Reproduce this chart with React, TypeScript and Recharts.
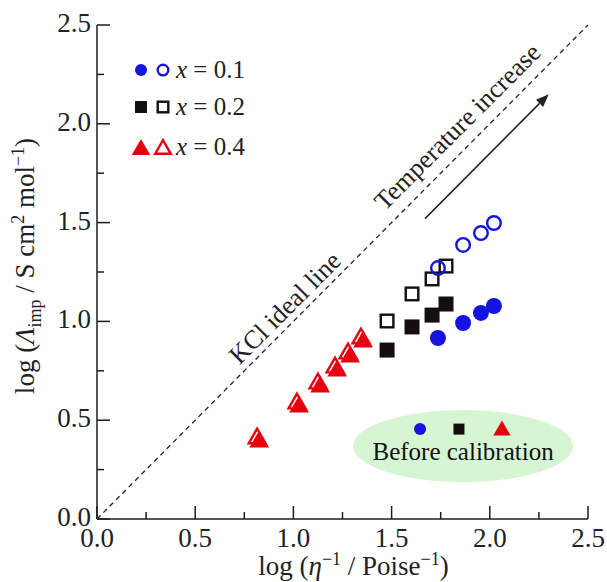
import React from 'react';
import { ScatterChart, Scatter, XAxis, YAxis, ReferenceLine, ReferenceDot } from 'recharts';

const FONT = '"Liberation Serif", "Times New Roman", serif';
const BLUE = '#1414e0';
const RED = '#e6000f';
const BLACK = '#140e0e';
const AXIS = '#1e1e1e';

// ticks (major every 0.5, minor every 0.25)
const tickValues = [0, 0.25, 0.5, 0.75, 1, 1.25, 1.5, 1.75, 2, 2.25, 2.5];
const tickLabels: Record<string, string> = { '0': '0.0', '0.5': '0.5', '1': '1.0', '1.5': '1.5', '2': '2.0', '2.5': '2.5' };

// x = 0.1
const x01 = [1.736, 1.864, 1.955, 2.021];
const y01Before = [0.916, 0.992, 1.043, 1.078];
const y01After = [1.27, 1.387, 1.447, 1.498];
// x = 0.2
const x02 = [1.477, 1.604, 1.706, 1.777];
const y02Before = [0.855, 0.972, 1.032, 1.088];
const y02After = [1.002, 1.139, 1.215, 1.28];
// x = 0.4
const x04Before = [0.826, 1.029, 1.136, 1.223, 1.289, 1.355];
const y04Before = [0.405, 0.582, 0.683, 0.764, 0.835, 0.911];
const x04After = [0.815, 1.018, 1.125, 1.212, 1.278, 1.344];
const y04After = [0.42, 0.597, 0.698, 0.779, 0.85, 0.926];

const zip = (xs: number[], ys: number[]) => xs.map((x, i) => ({ x, y: ys[i] }));

const legendRows = [
  { label: ' = 0.1', kind: 'circle', color: BLUE, y: 2.272 },
  { label: ' = 0.2', kind: 'square', color: BLACK, y: 2.085 },
  { label: ' = 0.4', kind: 'triangle', color: RED, y: 1.883 },
];

const marker = (kind: string, cx: number, cy: number, color: string, filled: boolean, s: number) => {
  const fill = filled ? color : 'none';
  const sw = filled ? 0 : 2.4;
  if (kind === 'circle') return <circle cx={cx} cy={cy} r={filled ? s / 2 : s / 2 - 1.2} fill={fill} stroke={color} strokeWidth={sw} />;
  if (kind === 'square') {
    const h = filled ? s / 2 : s / 2 - 1.2;
    return <rect x={cx - h} y={cy - h} width={2 * h} height={2 * h} fill={fill} stroke={color} strokeWidth={sw} />;
  }
  const w = filled ? s * 0.58 : s * 0.58 - 1.5;
  const hh = filled ? s * 0.5 : s * 0.5 - 1.2;
  return (
    <polygon
      points={`${cx},${cy - hh} ${cx + w},${cy + hh} ${cx - w},${cy + hh}`}
      fill={fill}
      stroke={color}
      strokeWidth={sw}
      strokeLinejoin="miter"
    />
  );
};

const shapeFor = (kind: string, color: string, filled: boolean, s: number) => (p: any) =>
  marker(kind, p.cx, p.cy, color, filled, s);

const isMajor = (v: number) => Math.abs(v * 2 - Math.round(v * 2)) < 1e-6;

const TickBottom = (p: any) => {
  const v = p.payload.value;
  const len = isMajor(v) ? 13 : 7;
  return (
    <g>
      <line x1={p.x} y1={p.y} x2={p.x} y2={p.y - len} stroke={AXIS} strokeWidth={1.5} />
      {isMajor(v) && (
        <text x={p.x} y={p.y + 28} textAnchor="middle" fontSize={27} fontFamily={FONT} fill="#222">
          {tickLabels[String(v)]}
        </text>
      )}
    </g>
  );
};
const TickTop = (p: any) => {
  const v = p.payload.value;
  const len = isMajor(v) ? 13 : 7;
  return <line x1={p.x} y1={p.y} x2={p.x} y2={p.y + len} stroke={AXIS} strokeWidth={1.5} />;
};
const TickLeft = (p: any) => {
  const v = p.payload.value;
  const len = isMajor(v) ? 13 : 7;
  return (
    <g>
      <line x1={p.x} y1={p.y} x2={p.x + len} y2={p.y} stroke={AXIS} strokeWidth={1.5} />
      {isMajor(v) && (
        <text x={p.x - 6} y={p.y + 7} textAnchor="end" fontSize={27} fontFamily={FONT} fill="#222">
          {tickLabels[String(v)]}
        </text>
      )}
    </g>
  );
};
const TickRight = (p: any) => {
  const v = p.payload.value;
  const len = isMajor(v) ? 13 : 7;
  return <line x1={p.x} y1={p.y} x2={p.x - len} y2={p.y} stroke={AXIS} strokeWidth={1.5} />;
};

const XLabel = (p: any) => {
  const vb = p.viewBox;
  const cx = vb.x + vb.width / 2 + 11;
  return (
    <text x={cx} y={vb.y + 56} textAnchor="middle" fontSize={27} fontFamily={FONT} fill="#222">
      log (<tspan fontStyle="italic">η</tspan>
      <tspan dy={-10} fontSize={18}>−1</tspan>
      <tspan dy={10}> / Poise</tspan>
      <tspan dy={-10} fontSize={18}>−1</tspan>
      <tspan dy={10}>)</tspan>
    </text>
  );
};

const YLabel = (p: any) => {
  const vb = p.viewBox;
  const cx = 34;
  const cy = vb.y + vb.height / 2 - 6;
  return (
    <text
      x={cx}
      y={cy}
      transform={`rotate(-90 ${cx} ${cy})`}
      textAnchor="middle"
      fontSize={27}
      fontFamily={FONT}
      fill="#222"
    >
      log (<tspan fontStyle="italic">Λ</tspan>
      <tspan dy={7} fontSize={18}>imp</tspan>
      <tspan dy={-7}> / S cm</tspan>
      <tspan dy={-10} fontSize={18}>2</tspan>
      <tspan dy={10}> mol</tspan>
      <tspan dy={-10} fontSize={18}>−1</tspan>
      <tspan dy={10}>)</tspan>
    </text>
  );
};

const ArrowShape = (p: any) => {
  const { x1, y1, x2, y2 } = p;
  const ang = Math.atan2(y2 - y1, x2 - x1);
  const L = 13;
  const W = 5;
  const bx = x2 - L * Math.cos(ang);
  const by = y2 - L * Math.sin(ang);
  const nx = -Math.sin(ang);
  const ny = Math.cos(ang);
  return (
    <g>
      <line x1={x1} y1={y1} x2={bx} y2={by} stroke="#222" strokeWidth={1.5} />
      <polygon
        points={`${x2},${y2} ${bx + W * nx},${by + W * ny} ${bx - W * nx},${by - W * ny}`}
        fill="#222"
      />
    </g>
  );
};

const RotText = (text: string) => (p: any) => (
  <text
    x={p.cx}
    y={p.cy}
    transform={`rotate(-45 ${p.cx} ${p.cy})`}
    textAnchor="middle"
    dominantBaseline="central"
    fontSize={26}
    fontFamily={FONT}
    fill="#222"
  >
    {text}
  </text>
);

export default function App() {
  return (
    <div style={{ position: 'absolute', left: 0, top: 0, background: '#fff' }}>
      <ScatterChart width={607} height={582} margin={{ top: 25, right: 19, bottom: 0, left: 0 }}>
        <XAxis
          type="number"
          dataKey="x"
          domain={[0, 2.5]}
          ticks={tickValues}
          interval={0}
          height={63}
          tickSize={0}
          tickMargin={0}
          tickLine={false}
          axisLine={{ stroke: AXIS, strokeWidth: 1.5 }}
          tick={TickBottom}
          label={{ content: XLabel }}
          allowDataOverflow
        />
        <XAxis
          xAxisId="top"
          orientation="top"
          type="number"
          domain={[0, 2.5]}
          ticks={tickValues}
          interval={0}
          height={0}
          tickSize={0}
          tickMargin={0}
          tickLine={false}
          axisLine={{ stroke: AXIS, strokeWidth: 1.5 }}
          tick={TickTop}
          allowDataOverflow
        />
        <YAxis
          type="number"
          dataKey="y"
          domain={[0, 2.5]}
          ticks={tickValues}
          interval={0}
          width={97}
          tickSize={0}
          tickMargin={0}
          tickLine={false}
          axisLine={{ stroke: AXIS, strokeWidth: 1.5 }}
          tick={TickLeft}
          label={{ content: YLabel }}
          allowDataOverflow
        />
        <YAxis
          yAxisId="right"
          orientation="right"
          type="number"
          domain={[0, 2.5]}
          ticks={tickValues}
          interval={0}
          width={0}
          tickSize={0}
          tickMargin={0}
          tickLine={false}
          axisLine={{ stroke: AXIS, strokeWidth: 1.5 }}
          tick={TickRight}
          allowDataOverflow
        />

        <ReferenceLine
          segment={[{ x: 0, y: 0 }, { x: 2.5, y: 2.5 }]}
          stroke="#222"
          strokeWidth={1.3}
          strokeDasharray="5 4"
        />
        <ReferenceLine segment={[{ x: 1.67, y: 1.52 }, { x: 2.3, y: 2.15 }]} shape={ArrowShape} />
        <ReferenceDot x={0.957} y={1.068} r={0} shape={RotText('KCl ideal line')} />
        <ReferenceDot x={1.835} y={1.985} r={0} shape={RotText('Temperature increase')} />

        {/* Before calibration ellipse */}
        <ReferenceDot
          x={1.864}
          y={0.369}
          r={0}
          shape={(p: any) => <ellipse cx={p.cx} cy={p.cy} rx={110} ry={36} fill="#d6f5d2" />}
        />
        <ReferenceDot x={1.645} y={0.455} r={0} shape={shapeFor('circle', BLUE, true, 12)} />
        <ReferenceDot x={1.843} y={0.455} r={0} shape={shapeFor('square', BLACK, true, 11)} />
        <ReferenceDot x={2.062} y={0.46} r={0} shape={shapeFor('triangle', RED, true, 15)} />
        <ReferenceDot
          x={1.864}
          y={0.299}
          r={0}
          shape={(p: any) => (
            <text x={p.cx} y={p.cy} textAnchor="middle" fontSize={25} fontFamily={FONT} fill="#111">
              Before calibration
            </text>
          )}
        />

        {/* legend */}
        {legendRows.map((r) => (
          <ReferenceDot key={'lf' + r.label} x={0.224} y={r.y} r={0} shape={shapeFor(r.kind, r.color, true, r.kind === 'triangle' ? 16 : 12)} />
        ))}
        {legendRows.map((r) => (
          <ReferenceDot key={'lo' + r.label} x={0.336} y={r.y} r={0} shape={shapeFor(r.kind, r.color, false, r.kind === 'triangle' ? 16 : 13)} />
        ))}
        {legendRows.map((r) => (
          <ReferenceDot
            key={'lt' + r.label}
            x={0.402}
            y={r.y}
            r={0}
            shape={(p: any) => (
              <text x={p.cx} y={p.cy + 8} fontSize={25} fontFamily={FONT} fill="#222">
                <tspan fontStyle="italic">x</tspan>
                {r.label}
              </text>
            )}
          />
        ))}

        <Scatter data={zip(x04Before, y04Before)} shape={shapeFor('triangle', RED, true, 17)} isAnimationActive={false} />
        <Scatter data={zip(x04After, y04After)} shape={shapeFor('triangle', RED, false, 17)} isAnimationActive={false} />
        <Scatter data={zip(x02, y02Before)} shape={shapeFor('square', BLACK, true, 15)} isAnimationActive={false} />
        <Scatter data={zip(x02, y02After)} shape={shapeFor('square', BLACK, false, 15)} isAnimationActive={false} />
        <Scatter data={zip(x01, y01Before)} shape={shapeFor('circle', BLUE, true, 16)} isAnimationActive={false} />
        <Scatter data={zip(x01, y01After)} shape={shapeFor('circle', BLUE, false, 16)} isAnimationActive={false} />
      </ScatterChart>
    </div>
  );
}
